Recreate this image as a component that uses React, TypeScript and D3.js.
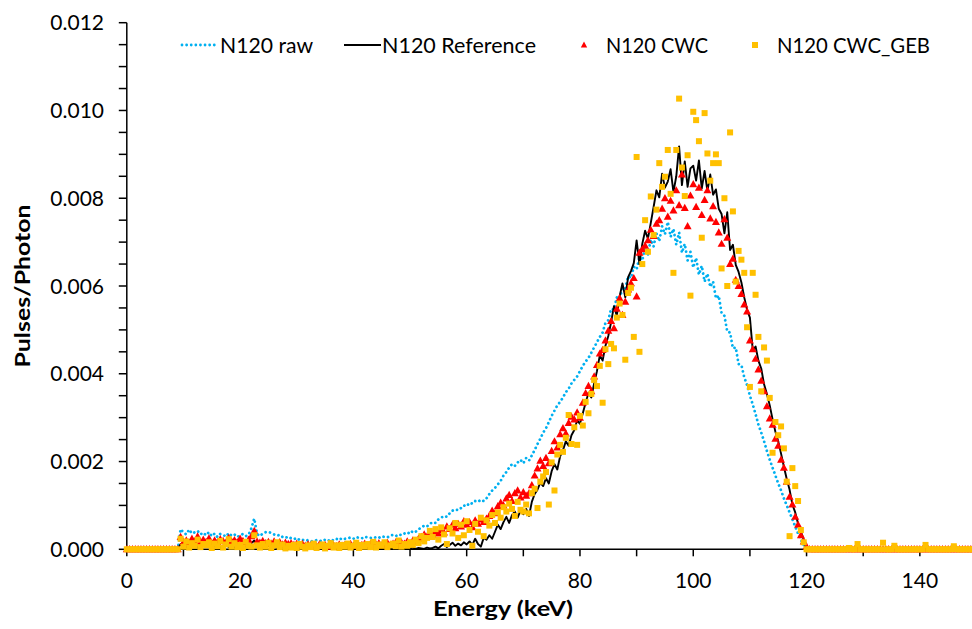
import React from "react";
import * as d3 from "d3";

// values in units of 1e-4 Pulses/Photon, energies 9.0 .. 120.0 keV every 0.5 keV
const UNIT = 1e-4;
const STEP = 0.5;
const E_FIRST = 9;
const E_LAST = 120;
const E_MAX = 150;

const rawVals = [
  0, 4.6, 3.8, 3.4, 4.5, 3.6, 3.9, 4.2, 3.4, 3.8,
  3.2, 3.9, 3.0, 3.6, 2.8, 3.5, 3.3, 2.9, 3.7, 3.1,
  3.4, 2.8, 3.2, 3.5, 3.0, 3.3, 4.8, 7.0, 3.5, 3.0,
  3.6, 3.9, 4.0, 3.7, 3.4, 3.1, 3.3, 2.8, 2.6, 2.9,
  2.5, 2.3, 2.6, 2.1, 2.2, 1.9, 2.1, 1.8, 1.9, 2.1,
  2.0, 1.8, 2.2, 1.9, 2.3, 2.0, 2.4, 2.1, 2.6, 2.4,
  2.5, 2.7, 2.4, 2.8, 2.6, 2.5, 2.9, 2.7, 2.6, 2.5,
  2.8, 2.6, 3.0, 2.8, 2.7, 3.1, 3.3, 3.0, 3.4, 3.2,
  3.6, 3.9, 3.5, 4.2, 4.0, 4.6, 4.9, 5.4, 5.2, 5.8,
  6.2, 6.0, 6.8, 7.2, 7.6, 7.4, 8.2, 8.8, 9.1, 8.9,
  9.4, 10.0, 9.8, 10.6, 10.4, 11.0, 10.8, 11.3, 11.0, 11.6,
  12.6, 13.4, 14.0, 14.8, 15.6, 16.8, 17.6, 18.6, 19.4, 19.0,
  19.8, 20.4, 19.6, 20.8, 20.2, 21.4, 22.6, 24.0, 25.2, 26.6,
  27.6, 29.0, 30.4, 31.6, 32.8, 33.6, 34.6, 35.8, 36.6, 37.8,
  38.6, 39.4, 40.6, 41.8, 42.8, 43.6, 44.8, 46.0, 47.2, 48.4,
  49.4, 51.6, 52.2, 54.8, 54.6, 57.4, 57.0, 59.6, 59.4, 62.2,
  61.8, 64.4, 63.8, 66.6, 65.8, 68.8, 67.2, 70.6, 69.0, 72.0,
  70.2, 73.6, 71.8, 74.6, 71.2, 73.0, 69.4, 72.2, 67.6, 69.6,
  65.8, 67.8, 64.2, 66.4, 62.6, 64.6, 61.0, 62.8, 59.8, 61.0,
  57.2, 57.8, 53.8, 53.2, 49.6, 49.4, 45.8, 46.0, 42.2, 42.0,
  39.2, 37.4, 35.0, 33.0, 30.8, 28.4, 26.6, 24.6, 22.4, 20.4,
  18.6, 16.8, 15.0, 13.4, 11.6, 10.0, 8.4, 6.8, 5.2, 3.6,
  2.2, 1.0, 0,
];

const refVals = [
  0, 1.2, 0.8, 0.5, 1.0, 0.6, 0.9, 0.4, 0.7, 1.0,
  0.5, 0.8, 0.3, 0.7, 0.9, 0.4, 0.6, 1.0, 0.5, 0.7,
  0.4, 0.8, 0.6, 0.3, 0.7, 0.5, 1.4, 2.0, 0.6, 0.4,
  0.7, 0.5, 0.8, 0.4, 0.6, 0.3, 0.7, 0.5, 0.2, 0.6,
  0.4, 0.2, 0.5, 0.3, 0.6, 0.2, 0.4, 0.1, 0.5, 0.3,
  0.2, 0.5, 0.3, 0.1, 0.4, 0.2, 0.6, 0.3, 0.1, 0.4,
  0.2, 0.5, 0.3, 0.1, 0.4, 0.3, 0.2, 0.5, 0.1, 0.3,
  0.4, 0.2, 0.1, 0.5, 0.3, 0.2, 0.4, 0.1, 0.3, 0.2,
  0.1, 0.3, 0.2, 0.4, 0.1, 0.3, 0.2, 0.1, 0.4, 0.2,
  0.3, 0.6, 0.2, 0.8, 1.2, 0.5, 1.0, 1.5, 0.8, 1.3,
  0.9, 1.6, 1.1, 1.8, 1.0, 2.4, 1.2, 0.6, 2.6, 2.2,
  3.2, 2.4, 4.0, 5.6, 4.6, 6.2, 7.4, 6.0, 7.8, 8.6,
  7.2, 8.8, 8.0, 9.2, 7.6, 10.8, 12.6, 13.6, 15.2, 14.4,
  16.2, 15.0, 17.8, 19.4, 18.2, 21.2, 22.6, 24.6, 23.6, 26.0,
  27.2, 29.4, 28.6, 31.0, 33.4, 35.6, 34.6, 37.8, 40.6, 44.2,
  43.0, 46.4, 48.6, 51.8, 55.4, 53.2, 57.6, 60.6, 57.4, 62.0,
  63.4, 65.2, 70.4, 65.0, 69.6, 72.6, 70.8, 74.4, 78.0, 81.8,
  80.2, 85.6, 82.4, 83.8, 86.6, 81.4, 85.0, 91.8, 83.0, 88.4,
  82.6, 86.8, 87.4, 84.0, 88.6, 82.2, 86.2, 81.6, 85.4, 80.8,
  82.0, 77.6, 76.4, 72.0, 76.8, 68.2, 69.4, 64.8, 63.2, 60.8,
  57.4, 54.6, 52.8, 45.4, 46.2, 43.0, 41.2, 37.6, 35.4, 32.8,
  29.6, 26.8, 24.6, 21.8, 18.8, 16.0, 13.6, 10.2, 8.4, 5.8,
  4.0, 2.2, 0,
];

const cwcVals = [
  0, 2.8, 1.6, 2.0, 1.4, 2.4, 1.8, 2.9, 1.5, 2.2,
  1.7, 2.5, 1.4, 2.0, 1.6, 2.3, 1.9, 1.5, 2.6, 1.8,
  2.1, 1.6, 2.4, 1.9, 1.5, 2.2, 3.0, 4.2, 1.8, 1.5,
  1.9, 1.4, 1.7, 1.3, 1.8, 1.2, 1.6, 1.1, 1.5, 1.2,
  1.4, 1.0, 1.3, 0.9, 1.2, 0.8, 1.1, 0.9, 1.0, 0.7,
  1.1, 0.8, 1.0, 0.6, 1.2, 0.9, 0.7, 1.1, 0.8, 1.0,
  0.9, 1.2, 0.8, 1.1, 0.7, 1.0, 1.3, 0.9, 1.2, 0.8,
  1.1, 1.4, 0.9, 1.2, 1.5, 1.0, 1.3, 1.6, 1.1, 1.5,
  1.3, 1.8, 1.4, 2.0, 1.7, 2.4, 2.8, 3.4, 2.9, 3.6,
  3.2, 4.0, 3.6, 4.4, 3.8, 5.2, 4.6, 5.6, 4.8, 5.8,
  5.2, 6.4, 5.6, 6.2, 5.0, 6.6, 5.8, 6.8, 6.2, 7.0,
  7.6, 8.8, 8.2, 9.8, 10.6, 10.0, 11.6, 12.4, 11.0, 12.8,
  13.4, 11.8, 13.0, 12.2, 12.8, 14.6, 16.8, 18.4, 20.2, 19.0,
  20.8, 19.6, 22.4, 24.6, 23.2, 26.2, 27.6, 26.4, 28.8, 30.2,
  29.6, 31.2, 30.0, 33.4, 35.6, 37.2, 36.0, 39.4, 42.0, 44.6,
  45.4, 47.6, 49.8, 52.0, 50.4, 54.8, 57.2, 53.4, 56.4, 59.2,
  60.6, 61.8, 57.6, 67.6, 68.4, 69.2, 70.4, 72.8, 71.4, 74.2,
  75.0, 77.6, 80.0, 75.8, 79.4, 77.2, 81.8, 78.4, 85.4, 77.8,
  73.6, 80.6, 83.2, 78.0, 82.4, 76.2, 79.6, 81.8, 75.4, 78.2,
  74.6, 72.2, 69.6, 75.2, 71.0, 65.0, 66.2, 61.4, 60.0, 58.2,
  55.8, 54.2, 47.6, 45.6, 43.4, 41.0, 38.4, 36.0, 32.6, 29.8,
  28.4, 25.2, 23.6, 20.4, 18.6, 15.4, 12.0, 10.2, 7.4, 5.6,
  3.2, 1.8, 0.6,
];

const gebVals = [
  0, 2.4, 0.6, 1.8, 0.4, 1.4, 0.8, 2.2, 0.5, 1.2,
  0.9, 1.6, 0.3, 1.3, 0.7, 1.9, 0.4, 1.1, 2.3, 0.6,
  1.4, 0.5, 1.0, 0.3, 1.7, 0.8, 0.6, 3.2, 0.9, 0.4,
  1.2, 0.6, 1.5, 0.3, 0.9, 1.6, 0.5, 1.1, 0.2, 0.8,
  0.4, 1.0, 0.3, 1.2, 0.6, 0.2, 0.9, 0.5, 1.3, 0.3,
  0.7, 1.1, 0.2, 0.8, 1.4, 0.4, 0.9, 0.3, 1.0, 0.6,
  1.3, 0.4, 0.8, 1.5, 0.3, 1.0, 0.6, 1.2, 0.5, 1.7,
  0.4, 1.1, 0.8, 1.6, 0.5, 0.9, 1.3, 0.7, 2.0, 0.6,
  1.2, 0.8, 1.6, 1.0, 2.2, 1.4, 3.0, 1.8, 2.6, 4.2,
  2.8, 4.6, 2.2, 5.0, 3.4, 1.2, 4.8, 3.6, 6.0, 2.6,
  5.6, 3.2, 6.4, 4.4, 0.8, 5.8, 4.0, 7.2, 3.0, 6.6,
  5.4, 7.8, 6.0, 8.4, 7.2, 9.6, 8.6, 10.4, 9.2, 7.6,
  10.8, 9.0, 8.6, 10.2, 8.2, 12.8, 13.8, 9.4, 15.4, 16.6,
  17.6, 10.2, 19.8, 13.4, 21.6, 23.8, 22.2, 25.4, 30.6, 24.0,
  27.8, 23.8, 30.4, 28.2, 33.6, 31.0, 35.4, 38.6, 37.2, 41.8,
  33.4, 45.6, 42.2, 46.8, 45.8, 52.8, 56.0, 53.4, 43.2, 58.4,
  59.6, 48.4, 89.4, 45.0, 65.0, 75.0, 67.8, 80.4, 71.6, 77.4,
  88.0, 82.6, 84.9, 91.0, 81.0, 63.0, 91.0, 102.7, 87.0, 80.5,
  89.8, 57.8, 99.7, 97.8, 93.0, 71.0, 99.4, 90.2, 84.0, 88.0,
  90.0, 88.0, 64.0, 80.0, 60.0, 95.0, 77.0, 61.0, 68.0, 66.0,
  63.0, 50.6, 37.0, 63.0, 58.0, 48.4, 36.0, 46.0, 43.0, 34.5,
  22.0, 29.0, 26.0, 28.0, 23.0, 15.4, 3.0, 18.5, 14.4, 11.0,
  4.4, 1.6, 0,
];

// CWC_GEB values above 120 keV (120.5 .. 150 keV, every 0.5 keV)
const gebTail = [
  0, 0, 0, 0, 0, 0, 0, 0, 0, 0,
  0, 0, 0, 0, 0.3, 0, 0, 1.2, 0, 0,
  0, 0, 0, 0, 0, 0, 1.5, 0, 0, 0,
  0.8, 0, 0, 0, 0, 0, 0, 0, 0, 0,
  0, 1.0, 0, 0, 0, 0, 0, 0, 0, 0,
  0, 0.7, 0, 0, 0, 0, 0, 0, 0, 0,
];

const xTickLabels = [0, 20, 40, 60, 80, 100, 120, 140];
const yTickLabels = [0, 0.002, 0.004, 0.006, 0.008, 0.01, 0.012];

const seriesNames = ["N120 raw", "N120 Reference", "N120 CWC", "N120 CWC_GEB"];
const COLORS = { raw: "#00B0F0", ref: "#000000", cwc: "#FF0000", geb: "#FFC000" };

type Pt = { e: number; v: number };

function buildSeries(vals: number[], tail: number[] | null): Pt[] {
  const pts: Pt[] = [];
  const nLead = Math.round(E_FIRST / STEP);
  for (let i = 0; i < nLead; i++) pts.push({ e: i * STEP, v: 0 });
  vals.forEach((v, i) => pts.push({ e: E_FIRST + i * STEP, v: v * UNIT }));
  const nTail = Math.round((E_MAX - E_LAST) / STEP);
  for (let i = 0; i < nTail; i++) {
    const v = tail ? tail[i] : 0;
    pts.push({ e: E_LAST + (i + 1) * STEP, v: v * UNIT });
  }
  return pts;
}

const W = 972;
const H = 629;
const FONT = "Lato, 'Open Sans', 'DejaVu Sans', sans-serif";

export default function App() {
  const x = d3.scaleLinear().domain([0, 150]).range([126.8, 976.5]);
  const y = d3.scaleLinear().domain([0, 0.012]).range([549.3, 22.7]);

  const raw = buildSeries(rawVals, null);
  const ref = buildSeries(refVals, null);
  const cwc = buildSeries(cwcVals, null);
  const geb = buildSeries(gebVals, gebTail);

  const line = d3
    .line<Pt>()
    .x((d) => x(d.e))
    .y((d) => y(d.v));

  const yMinor = d3.range(0, 0.01201, 0.0005);
  const xMinor = d3.range(0, 151, 10);
  const tri = "M0,-4.2 L4,3 L-4,3 Z";
  const triLeg = "M0,-3.4 L3.2,2.4 L-3.2,2.4 Z";
  const x0 = x(0);
  const y0 = y(0);
  const legY = 45;
  const legBase = 52.5;
  const legFont = 21;

  return (
    <svg
      width={W}
      height={H}
      viewBox={`0 0 ${W} ${H}`}
      style={{ position: "absolute", left: 0, top: 0, background: "#fff" }}
      fontFamily={FONT}
    >
      <rect x={0} y={0} width={W} height={H} fill="#fff" />
      {/* axes */}
      <line x1={x0} x2={x0} y1={y(0.012)} y2={y0} stroke="#000" strokeWidth={1.5} />
      {yMinor.map((t) => (
        <line key={"yt" + t} x1={x0 - 8} x2={x0} y1={y(t)} y2={y(t)} stroke="#000" strokeWidth={1.5} />
      ))}
      {yTickLabels.map((t) => (
        <text key={"yl" + t} x={104} y={y(t)} dy="0.36em" textAnchor="end" fontSize={21} fill="#000">
          {t.toFixed(3)}
        </text>
      ))}
      <line x1={x0} x2={W} y1={y0} y2={y0} stroke="#000" strokeWidth={1.5} />
      {xMinor.map((t) => (
        <line key={"xt" + t} x1={x(t)} x2={x(t)} y1={y0} y2={y0 + 7} stroke="#000" strokeWidth={1.5} />
      ))}
      {xTickLabels.map((t) => (
        <text key={"xl" + t} x={x(t)} y={588} textAnchor="middle" fontSize={21} fill="#000">
          {t}
        </text>
      ))}
      <text x={503} y={616} textAnchor="middle" fontSize={21} fontWeight="bold" textLength={140} lengthAdjust="spacingAndGlyphs">
        Energy (keV)
      </text>
      <text
        transform={`translate(30,286) rotate(-90)`}
        textAnchor="middle"
        fontSize={21}
        fontWeight="bold"
        textLength={163}
        lengthAdjust="spacingAndGlyphs"
      >
        Pulses/Photon
      </text>

      {/* series */}
      <path
        d={line(raw) || ""}
        fill="none"
        stroke={COLORS.raw}
        strokeWidth={2.8}
        strokeLinecap="round"
        strokeDasharray="0.01 4.6"
      />
      <path d={line(ref) || ""} fill="none" stroke={COLORS.ref} strokeWidth={1.9} strokeLinejoin="round" />
      <g fill={COLORS.cwc}>
        {cwc.map((d, i) => (
          <path key={"c" + i} d={tri} transform={`translate(${x(d.e)},${y(d.v)})`} />
        ))}
      </g>
      <g fill={COLORS.geb}>
        {geb.map((d, i) => (
          <rect key={"g" + i} x={x(d.e) - 3} y={y(d.v) - 3} width={6} height={6} />
        ))}
      </g>

      {/* legend */}
      <line
        x1={182}
        x2={216}
        y1={legY}
        y2={legY}
        stroke={COLORS.raw}
        strokeWidth={2.8}
        strokeLinecap="round"
        strokeDasharray="0.01 4.6"
      />
      <text x={220} y={legBase} fontSize={legFont} textLength={93} lengthAdjust="spacingAndGlyphs">{seriesNames[0]}</text>
      <line x1={344} x2={381} y1={legY} y2={legY} stroke="#000" strokeWidth={1.9} />
      <text x={382} y={legBase} fontSize={legFont} textLength={154} lengthAdjust="spacingAndGlyphs">{seriesNames[1]}</text>
      <path d={triLeg} transform={`translate(584,${legY})`} fill={COLORS.cwc} />
      <text x={606} y={legBase} fontSize={legFont} textLength={102} lengthAdjust="spacingAndGlyphs">{seriesNames[2]}</text>
      <rect x={752} y={legY - 3} width={6} height={6} fill={COLORS.geb} />
      <text x={777} y={legBase} fontSize={legFont} textLength={153} lengthAdjust="spacingAndGlyphs">{seriesNames[3]}</text>
    </svg>
  );
}
